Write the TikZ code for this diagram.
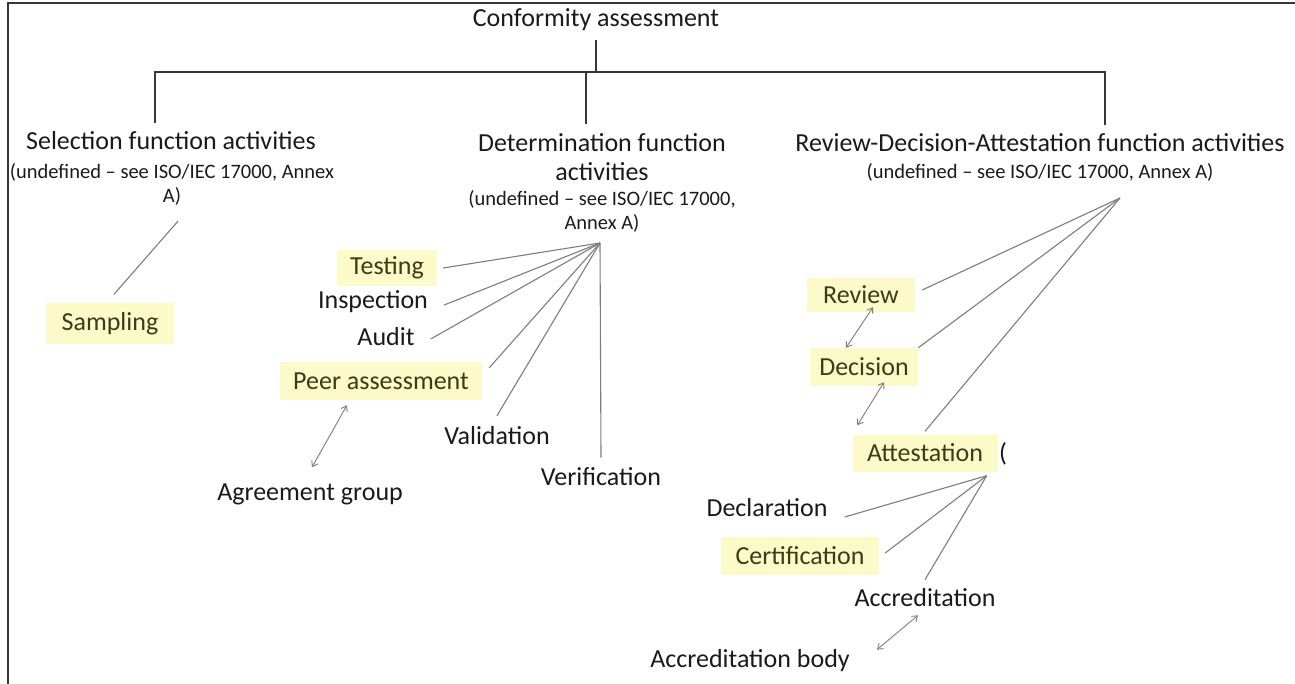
\documentclass[tikz,border=0pt]{standalone}
\usepackage{fontspec}
\setmainfont{Carlito}
\usepackage{xcolor}
\usetikzlibrary{arrows.meta}

\definecolor{ink}{RGB}{26,26,26}
\definecolor{hilite}{RGB}{252,250,200}
\definecolor{hltext}{RGB}{60,60,22}
\definecolor{treeline}{RGB}{55,55,55}
\definecolor{spokegray}{RGB}{125,125,125}

\begin{document}
\begin{tikzpicture}[x=1pt, y=-1pt,
  big/.style={font=\fontsize{26}{29}\selectfont, text=ink, inner sep=0pt, align=center},
  note/.style={font=\fontsize{20.5}{24}\selectfont, text=ink, inner sep=0pt, align=center},
  hl/.style={big, fill=hilite, text=hltext, minimum height=36pt},
  tree/.style={draw=treeline, line width=1.8pt},
  spoke/.style={draw=spokegray, line width=1.1pt},
  link/.style={spoke, line width=0.9pt, {Straight Barb[length=5pt,width=7pt]}-{Straight Barb[length=5pt,width=7pt]}}]
\useasboundingbox (0,0) rectangle (1295,684);
\draw[draw=treeline, line width=2.4pt] (8,684) -- (8,3) -- (1295,3);

% top of the tree
\node[big] (root) at (596,20) {Conformity assessment};
\node[big]  (selT) at (171,141) {Selection function activities};
\node[note] (selN) at (172,184) {(undefined -- see ISO/IEC 17000, Annex\\A)};
\node[big]  (detT) at (602,157) {Determination function\\activities};
\node[note] (detN) at (602,211) {(undefined -- see ISO/IEC 17000,\\Annex A)};
\node[big]  (rdaT) at (1040,143) {Review-Decision-Attestation function activities};
\node[note] (rdaN) at (1040,172) {(undefined -- see ISO/IEC 17000, Annex A)};
\coordinate (barL) at (155,72);
\coordinate (barM) at (586,72);
\coordinate (barR) at (1105,72);
\draw[tree] ([yshift=-9]root.south) -- (root.south |- barL);
\draw[tree] ([yshift=9]barL |- selT.north) -- (barL) -- (barR) -- ([yshift=9]barR |- rdaT.north);
\draw[tree] (barM) -- ([yshift=9]barM |- detT.north);

% selection
\node[hl, minimum width=128pt, minimum height=41pt] (samp) at (110,324) {Sampling};
\draw[spoke] ([xshift=4,yshift=9]samp.north) -- ([xshift=6,yshift=-16]selN.south);

% determination
\coordinate (dethub) at (600,243);
\node[hl, minimum width=100pt] (test)  at (387,268) {Testing};
\node[big] (insp)  at (373,302) {Inspection};
\node[big] (audit) at (386,337) {Audit};
\node[hl, minimum width=202pt, minimum height=38pt] (peer) at (381,381) {Peer assessment};
\node[big] (valid) at (497,436) {Validation};
\node[big] (verif) at (601,477) {Verification};
\node[big] (agree) at (310,494) {Agreement group};
\draw[spoke] ([xshift=6]test.east) -- (dethub);
\draw[spoke] ([xshift=16,yshift=-3]insp.east) -- (dethub);
\draw[spoke] ([xshift=16,yshift=-2]audit.east) -- (dethub);
\draw[spoke] ([xshift=7,yshift=-6]peer.north east) -- (dethub);
\draw[spoke] ([yshift=11]valid.north) -- (dethub);
\draw[spoke] ([yshift=10]verif.north) -- (dethub);
\draw[link] ([xshift=-34,yshift=-5]peer.south) -- ([xshift=2,yshift=16]agree.north);

% review, decision, attestation
\coordinate (rdahub) at (1120,198);
\node[hl, minimum width=108pt, minimum height=34pt] (review) at (861,295) {Review};
\node[hl, minimum width=108pt, minimum height=38pt] (decis)  at (864,367) {Decision};
\node[hl, minimum width=145pt, minimum height=37pt] (attest) at (925,453) {Attestation};
\node[big] (paren) at (1003,454) {(};
\draw[spoke] ([xshift=7,yshift=5]review.east) -- (rdahub);
\draw[spoke] (decis.north east) -- (rdahub);
\draw[spoke] ([yshift=3]attest.north) -- (rdahub);
\draw[link] ([xshift=12,yshift=5]review.south) -- ([xshift=-18]decis.north);
\draw[link] ([xshift=20,yshift=4]decis.south) -- ([xshift=5,yshift=9]attest.north west);

\coordinate (atthub) at ([xshift=-11,yshift=-4]attest.south east);
\node[big] (decl) at (767,508) {Declaration};
\node[hl, minimum width=158pt, minimum height=38pt] (cert) at (800,556) {Certification};
\node[big] (accr) at (925,598) {Accreditation};
\node[big] (body) at (750,661) {Accreditation body};
\draw[spoke] ([xshift=17,yshift=-9]decl.east) -- (atthub);
\draw[spoke] ([xshift=6,yshift=3]cert.east) -- (atthub);
\draw[spoke] ([yshift=9]accr.north) -- (atthub);
\draw[link] ([xshift=-7,yshift=-8]accr.south) -- ([xshift=27]body.north east);
\end{tikzpicture}
\end{document}
